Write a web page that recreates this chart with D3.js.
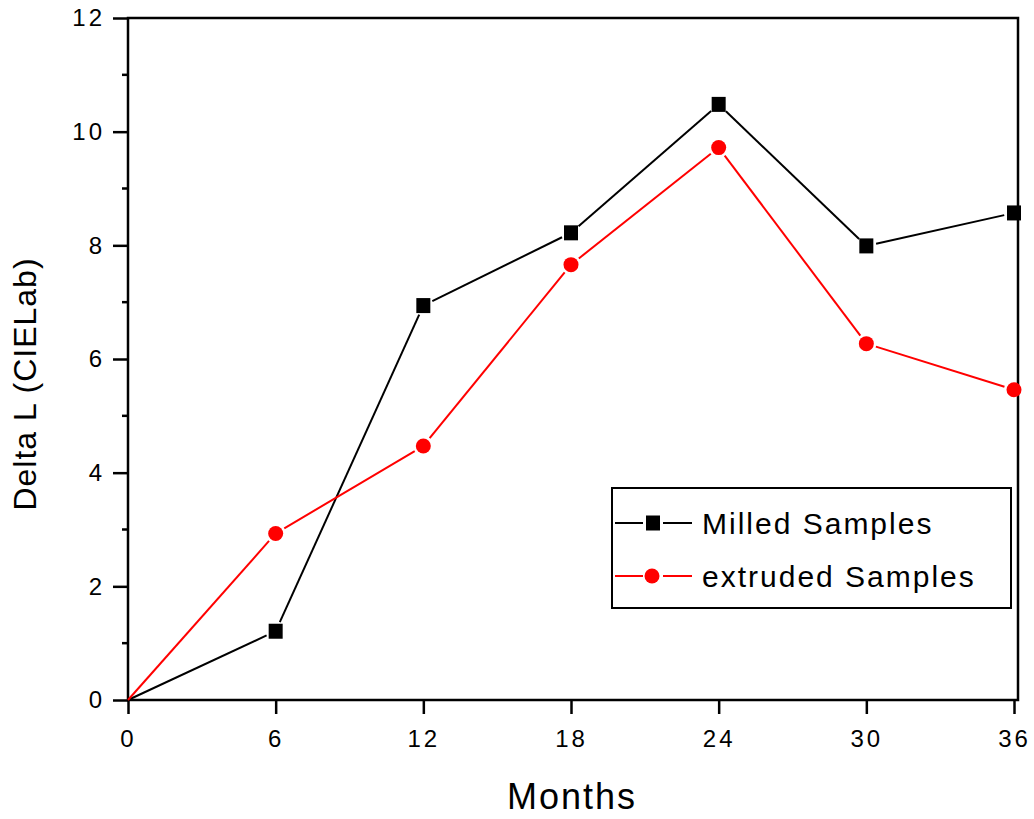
<!DOCTYPE html>
<html>
<head>
<meta charset="utf-8">
<script src="https://cdn.jsdelivr.net/npm/d3@7"></script>
<style>
  html, body { margin: 0; padding: 0; background: #fff; }
  svg { display: block; font-family: Arial, "Liberation Sans", sans-serif; }
</style>
</head>
<body>
<svg id="chart" width="1034" height="819"></svg>
<script>
const months = [0, 6, 12, 18, 24, 30, 36];
const milled = [0, 1.21, 6.94, 8.22, 10.48, 7.99, 8.57];
const extruded = [0, 2.93, 4.47, 7.66, 9.72, 6.27, 5.46];
const xTicks = [0, 6, 12, 18, 24, 30, 36];
const yTicks = [0, 2, 4, 6, 8, 10, 12];
const yMinor = [1, 3, 5, 7, 9, 11];
const seriesNames = ["Milled Samples", "extruded Samples"];

(function () {
const svg = d3.select("#chart");
const pLeft = 128, pTop = 18, pBottom = 700, pRight = 1018;
const x = d3.scaleLinear().domain([0, 36]).range([128, 1014]);
const y = d3.scaleLinear().domain([0, 12]).range([pBottom, pTop]);

// frame
svg.append("rect").attr("x", pLeft).attr("y", pTop)
  .attr("width", pRight - pLeft).attr("height", pBottom - pTop)
  .attr("fill", "none").attr("stroke", "#000").attr("stroke-width", 2.5);

// x axis
const xAxis = d3.axisBottom(x).tickValues(xTicks).tickSize(14).tickPadding(16).tickSizeOuter(0);
const gx = svg.append("g").attr("transform", `translate(0,${pBottom})`).call(xAxis);
gx.select(".domain").remove();
gx.selectAll("line").attr("stroke-width", 2.5);
gx.selectAll("text").attr("font-size", 24).attr("letter-spacing", 3).attr("fill", "#000")
  .attr("font-family", "Arial, 'Liberation Sans', sans-serif");

// y axis
const yAxis = d3.axisLeft(y).tickValues(yTicks).tickSize(15).tickPadding(8).tickSizeOuter(0);
const gy = svg.append("g").attr("transform", `translate(${pLeft},0)`).call(yAxis);
gy.select(".domain").remove();
gy.selectAll("line").attr("stroke-width", 2.5);
gy.selectAll("text").attr("font-size", 24).attr("letter-spacing", 3).attr("fill", "#000")
  .attr("font-family", "Arial, 'Liberation Sans', sans-serif");

svg.append("g").selectAll("line").data(yMinor).join("line")
  .attr("x1", pLeft - 6).attr("x2", pLeft)
  .attr("y1", d => y(d)).attr("y2", d => y(d))
  .attr("stroke", "#000").attr("stroke-width", 2.5);

// axis titles
svg.append("text").attr("x", 572).attr("y", 809).attr("text-anchor", "middle")
  .attr("font-size", 36).attr("letter-spacing", 2).text("Months");
svg.append("text").attr("transform", "translate(36,384) rotate(-90)").attr("text-anchor", "middle")
  .attr("font-size", 32).attr("letter-spacing", 1).text("Delta L (CIELab)");

// series
const gap = 10;
function drawSeries(vals, color, markerType) {
  const pts = months.map((m, i) => [x(m), y(vals[i]), i > 0]);
  const g = svg.append("g");
  for (let i = 0; i < pts.length - 1; i++) {
    const [x1, y1, m1] = pts[i], [x2, y2, m2] = pts[i + 1];
    const dx = x2 - x1, dy = y2 - y1, len = Math.hypot(dx, dy);
    const ux = dx / len, uy = dy / len;
    const s = m1 ? gap : 0, e = m2 ? gap : 0;
    g.append("line")
      .attr("x1", x1 + ux * s).attr("y1", y1 + uy * s)
      .attr("x2", x2 - ux * e).attr("y2", y2 - uy * e)
      .attr("stroke", color).attr("stroke-width", 2);
  }
  const mp = pts.filter(p => p[2]);
  if (markerType === "square") {
    g.selectAll("rect").data(mp).join("rect")
      .attr("x", d => d[0] - 7).attr("y", d => d[1] - 7.5)
      .attr("width", 14).attr("height", 15).attr("fill", color);
  } else {
    g.selectAll("circle").data(mp).join("circle")
      .attr("cx", d => d[0]).attr("cy", d => d[1]).attr("r", 7.5).attr("fill", color);
  }
}
drawSeries(milled, "#000", "square");
drawSeries(extruded, "#ff0000", "circle");

// legend
const lg = svg.append("g");
lg.append("rect").attr("x", 612).attr("y", 488).attr("width", 399).attr("height", 120)
  .attr("fill", "#fff").attr("stroke", "#000").attr("stroke-width", 2);
const rows = [
  { name: seriesNames[0], color: "#000", type: "square", cy: 523 },
  { name: seriesNames[1], color: "#ff0000", type: "circle", cy: 576 }
];
rows.forEach(r => {
  lg.append("line").attr("x1", 615).attr("x2", 643).attr("y1", r.cy).attr("y2", r.cy)
    .attr("stroke", r.color).attr("stroke-width", 2);
  lg.append("line").attr("x1", 663).attr("x2", 692).attr("y1", r.cy).attr("y2", r.cy)
    .attr("stroke", r.color).attr("stroke-width", 2);
  if (r.type === "square") {
    lg.append("rect").attr("x", 646).attr("y", r.cy - 7.5).attr("width", 14).attr("height", 15).attr("fill", r.color);
  } else {
    lg.append("circle").attr("cx", 652).attr("cy", r.cy).attr("r", 7.5).attr("fill", r.color);
  }
  lg.append("text").attr("x", 702).attr("y", r.cy + 11).attr("font-size", 30)
    .attr("letter-spacing", 2).attr("fill", "#000").text(r.name);
});
})();
</script>
</body>
</html>
